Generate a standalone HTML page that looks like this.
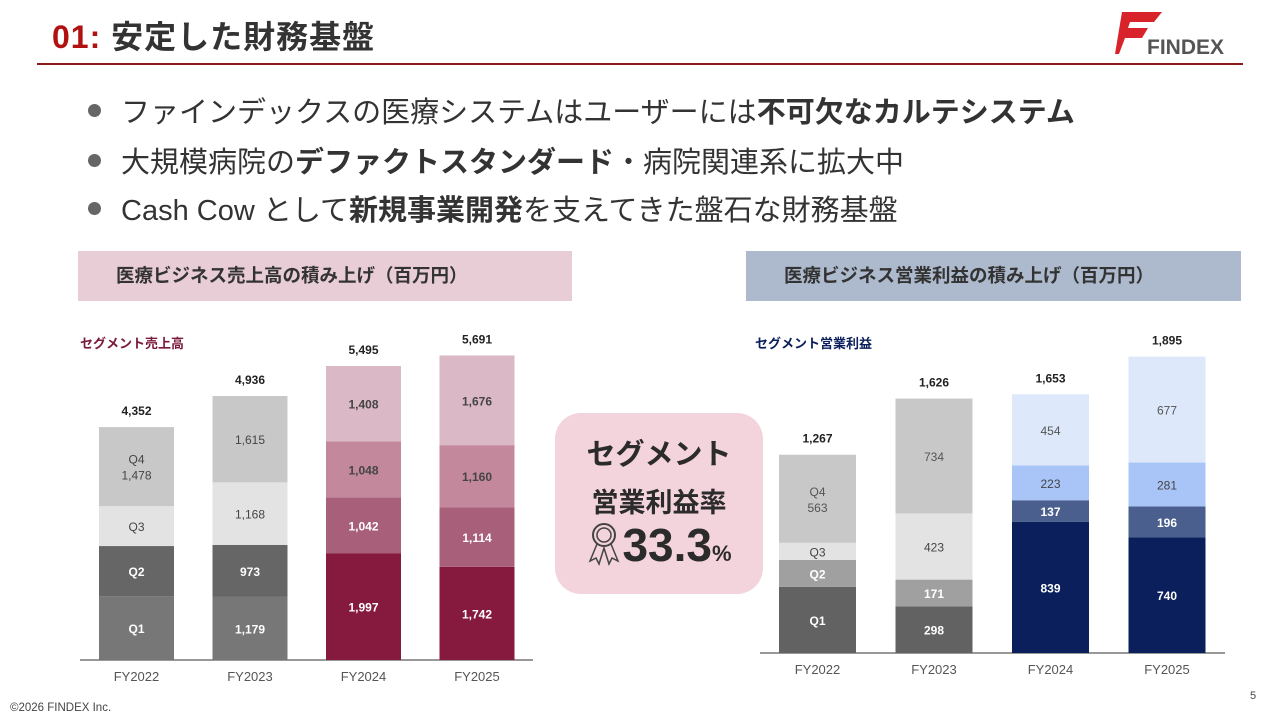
<!DOCTYPE html>
<html><head><meta charset="utf-8">
<style>
body{margin:0;width:1280px;height:720px;background:#fff;position:relative;overflow:hidden;font-family:"Liberation Sans","Noto Sans CJK JP",sans-serif;}
.abs{position:absolute;}
.title{left:52px;top:12px;font-size:32px;font-weight:bold;color:#333;white-space:nowrap;letter-spacing:1px;}
.title span{color:#b01212;}
.rule{left:37px;top:63px;width:1206px;height:2px;background:#8b1a1a;}
.bul{left:88px;font-size:29px;color:#333;white-space:nowrap;}
.bul:before{content:"";display:inline-block;width:13px;height:13px;border-radius:50%;background:#666;margin-right:20px;vertical-align:5px;}
.hdr{top:251px;height:50px;line-height:50px;font-size:18.5px;font-weight:bold;color:#333;}
</style></head><body>
<div class="abs title"><span>01:</span> 安定した財務基盤</div>
<svg class="abs" style="left:1110px;top:8px" width="140" height="52">
<polygon points="12,4 52,4 44,14 20,14 18,20 38,20 32,30 15,30 9,46 5,46" fill="#d8232a"/>
<text x="37" y="46" font-size="21" font-weight="bold" fill="#555" font-family="Liberation Sans,sans-serif">FINDEX</text>
</svg>
<div class="abs rule"></div>
<div class="abs bul" style="top:89px">ファインデックスの医療システムはユーザーには<b>不可欠なカルテシステム</b></div>
<div class="abs bul" style="top:139px">大規模病院の<b>デファクトスタンダード</b>・病院関連系に拡大中</div>
<div class="abs bul" style="top:187px">Cash Cow として<b>新規事業開発</b>を支えてきた盤石な財務基盤</div>
<div class="abs hdr" style="left:78px;width:494px;background:#e8cdd6;padding-left:38px;box-sizing:border-box">医療ビジネス売上高の積み上げ（百万円）</div>
<div class="abs hdr" style="left:746px;width:495px;background:#adbacd;padding-left:38px;box-sizing:border-box">医療ビジネス営業利益の積み上げ（百万円）</div>
<div class="abs" style="left:555px;top:413px;width:208px;height:181px;background:#f3d3dc;border-radius:26px;text-align:center;color:#2b2b2b;font-weight:bold">
<div style="font-size:29px;margin-top:18px">セグメント</div>
<div style="font-size:27px;margin-top:8px">営業利益率</div>
<div style="font-size:46px;margin-top:-2px;white-space:nowrap"><svg width="36" height="46" style="vertical-align:-6px"><circle cx="18" cy="14" r="11" fill="none" stroke="#444" stroke-width="2"/><circle cx="18" cy="14" r="7" fill="none" stroke="#444" stroke-width="1.5"/><path d="M11 23 L4 40 L10 37 L13 43 L18 27 L23 43 L26 37 L32 40 L25 23" fill="none" stroke="#444" stroke-width="1.5"/></svg>33.3<span style="font-size:22px">%</span></div>
</div>
<svg class="abs" style="left:0;top:0" width="1280" height="720" id="charts"></svg>
<div class="abs" style="left:10px;top:702px;font-size:11.5px;color:#444">©2026 FINDEX Inc.</div>
<div class="abs" style="left:1250px;top:690px;font-size:11px;color:#444">5</div>
<script>
const categories=["FY2022","FY2023","FY2024","FY2025"];
const salesQ1=[1195,1179,1997,1742];
const salesQ2=[935,973,1042,1114];
const salesQ3=[745,1168,1048,1160];
const salesQ4=[1478,1615,1408,1676];
const salesTotals=["4,352","4,936","5,495","5,691"];
const salesLabels=[["Q1","1,179","1,997","1,742"],["Q2","973","1,042","1,114"],["Q3","1,168","1,048","1,160"],["Q4\n1,478","1,615","1,408","1,676"]];
const profQ1=[422,298,839,740];
const profQ2=[173,171,137,196];
const profQ3=[109,423,223,281];
const profQ4=[563,734,454,677];
const profTotals=["1,267","1,626","1,653","1,895"];
const profLabels=[["Q1","298","839","740"],["Q2","171","137","196"],["Q3","423","223","281"],["Q4\n563","734","454","677"]];
const NS="http://www.w3.org/2000/svg";
const svg=document.getElementById('charts');
function mk(t,a){const e=document.createElementNS(NS,t);for(const k in a)e.setAttribute(k,a[k]);svg.appendChild(e);return e;}
function chart(o){
  const y=v=>o.base-v*o.scale;
  const x=i=>o.x0+i*o.step;
  const series=[o.q1,o.q2,o.q3,o.q4];
  mk('line',{x1:o.ax0,x2:o.ax1,y1:o.base,y2:o.base,stroke:'#777','stroke-width':1.5});
  categories.forEach((c,i)=>{
    let cum=0;
    const pal=o.colored[i]?o.cpal:o.gpal;
    const tpal=o.colored[i]?o.ctxt:o.gtxt;
    series.forEach((s,q)=>{
      const r=mk('rect',{x:x(i),y:y(cum+s[i]),width:o.w,height:s[i]*o.scale,fill:pal[q]});
      
      
      const mid=y(cum+s[i]/2);
      const lines=o.labels[q][i].split('\n');
      lines.forEach((ln,k)=>{
        const t=mk('text',{x:x(i)+o.w/2,y:mid+5+(k-(lines.length-1)/2)*16,'text-anchor':'middle','font-size':12,'font-weight':tpal[q][1],fill:tpal[q][0]});
        t.textContent=ln;
        
        
      });
      cum+=s[i];
    });
    const tt=mk('text',{x:x(i)+o.w/2,y:y(cum)-12,'text-anchor':'middle','font-size':12,'font-weight':'bold',fill:'#222'});
    tt.textContent=o.totals[i];
    
    
    const cl=mk('text',{x:x(i)+o.w/2,y:o.base+21,'text-anchor':'middle','font-size':13,fill:'#555'});
    cl.textContent=c;
    
    
  });
  const tl=mk('text',{x:o.tx,y:o.ty,'font-size':13,'font-weight':'bold',fill:o.tcol,'font-family':'Liberation Sans,Noto Sans CJK JP,sans-serif'});
  tl.textContent=o.title;
  
  
}
chart({id:'sales',base:660,scale:0.0535,x0:99,step:113.5,w:75,ax0:80,ax1:533,q1:salesQ1,q2:salesQ2,q3:salesQ3,q4:salesQ4,totals:salesTotals,labels:salesLabels,colored:[false,false,true,true],
 gpal:['#777777','#666666','#e3e3e3','#c8c8c8'],cpal:['#861a3e','#a85f79','#c3889c','#dbb8c5'],
 gtxt:[['#fff','bold'],['#fff','bold'],['#444','normal'],['#444','normal']],ctxt:[['#fff','bold'],['#fff','bold'],['#444','bold'],['#444','bold']],
 title:'セグメント売上高',tx:80,ty:348,tcol:'#7a1a3a'});
chart({id:'profit',base:653,scale:0.1565,x0:779,step:116.5,w:77,ax0:760,ax1:1225,q1:profQ1,q2:profQ2,q3:profQ3,q4:profQ4,totals:profTotals,labels:profLabels,colored:[false,false,true,true],
 gpal:['#626262','#a0a0a0','#e3e3e3','#c8c8c8'],cpal:['#0b1f5c','#4a5f8d','#a9c5f7','#dde8fb'],
 gtxt:[['#fff','bold'],['#fff','bold'],['#444','normal'],['#555','normal']],ctxt:[['#fff','bold'],['#fff','bold'],['#444','normal'],['#555','normal']],
 title:'セグメント営業利益',tx:755,ty:348,tcol:'#0b1f5c'});
</script>
</body></html>
